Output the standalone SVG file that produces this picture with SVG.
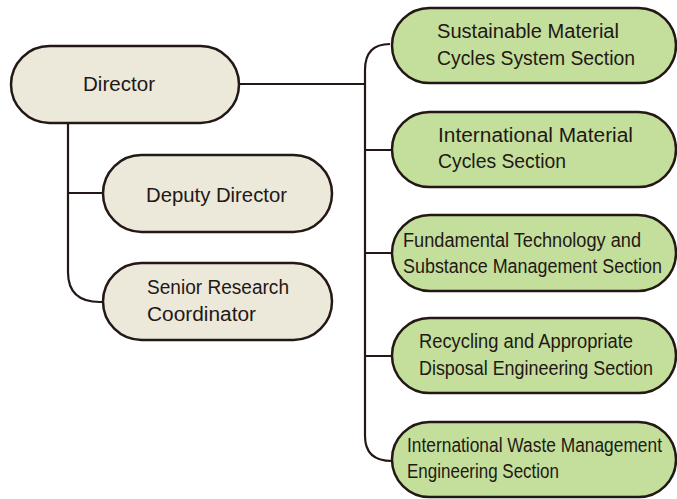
<svg xmlns="http://www.w3.org/2000/svg" width="677" height="499" viewBox="0 0 677 499">
<style>
.box{stroke:#231815;stroke-width:2.5}
.mgr{fill:#ece8da}
.sec{fill:#c3df9b}
.ln{fill:none;stroke:#231815;stroke-width:2.2}
text{font-family:"Liberation Sans",Arial,sans-serif;font-size:19.5px;fill:#231815}
</style>
<rect width="677" height="499" fill="#ffffff"/>
<g id="connectors">
<path class="ln" d="M239,84 H365"/>
<path class="ln" d="M390,44 Q365,44 365,70 V436 Q365,461 392,461"/>
<path class="ln" d="M365,150 H392 M365,253 H392 M365,356 H392"/>
<path class="ln" d="M68,123 V272 Q68,302 100,302 H103"/>
<path class="ln" d="M68,193 H103"/>
</g>
<g id="director">
<rect class="box mgr" x="11" y="46" width="228" height="77" rx="38.5"/>
<text x="83" y="91" textLength="72" lengthAdjust="spacingAndGlyphs">Director</text>
</g>
<g id="deputy-director">
<rect class="box mgr" x="103" y="155" width="229" height="77" rx="38.5"/>
<text x="146" y="202" textLength="141" lengthAdjust="spacingAndGlyphs">Deputy Director</text>
</g>
<g id="senior-research-coordinator">
<rect class="box mgr" x="103" y="263" width="229" height="77" rx="38.5"/>
<text x="147" y="294" textLength="142" lengthAdjust="spacingAndGlyphs">Senior Research</text>
<text x="147" y="321" textLength="109" lengthAdjust="spacingAndGlyphs">Coordinator</text>
</g>
<g id="sec-sustainable">
<rect class="box sec" x="392" y="8" width="284" height="75" rx="37.5"/>
<text x="437" y="38" textLength="182" lengthAdjust="spacingAndGlyphs">Sustainable Material</text>
<text x="437" y="65" textLength="198" lengthAdjust="spacingAndGlyphs">Cycles System Section</text>
</g>
<g id="sec-international-material">
<rect class="box sec" x="392" y="112" width="284" height="75" rx="37.5"/>
<text x="438" y="142" textLength="195" lengthAdjust="spacingAndGlyphs">International Material</text>
<text x="438" y="168" textLength="128" lengthAdjust="spacingAndGlyphs">Cycles Section</text>
</g>
<g id="sec-fundamental">
<rect class="box sec" x="392" y="215" width="284" height="76" rx="38"/>
<text x="403" y="247" textLength="238" lengthAdjust="spacingAndGlyphs">Fundamental Technology and</text>
<text x="403" y="273" textLength="259" lengthAdjust="spacingAndGlyphs">Substance Management Section</text>
</g>
<g id="sec-recycling">
<rect class="box sec" x="392" y="318" width="284" height="75" rx="37.5"/>
<text x="419" y="348" textLength="214" lengthAdjust="spacingAndGlyphs">Recycling and Appropriate</text>
<text x="419" y="375" textLength="234" lengthAdjust="spacingAndGlyphs">Disposal Engineering Section</text>
</g>
<g id="sec-international-waste">
<rect class="box sec" x="392" y="422" width="284" height="75" rx="37.5"/>
<text x="407" y="452" textLength="255" lengthAdjust="spacingAndGlyphs">International Waste Management</text>
<text x="407" y="478" textLength="152" lengthAdjust="spacingAndGlyphs">Engineering Section</text>
</g>
</svg>
